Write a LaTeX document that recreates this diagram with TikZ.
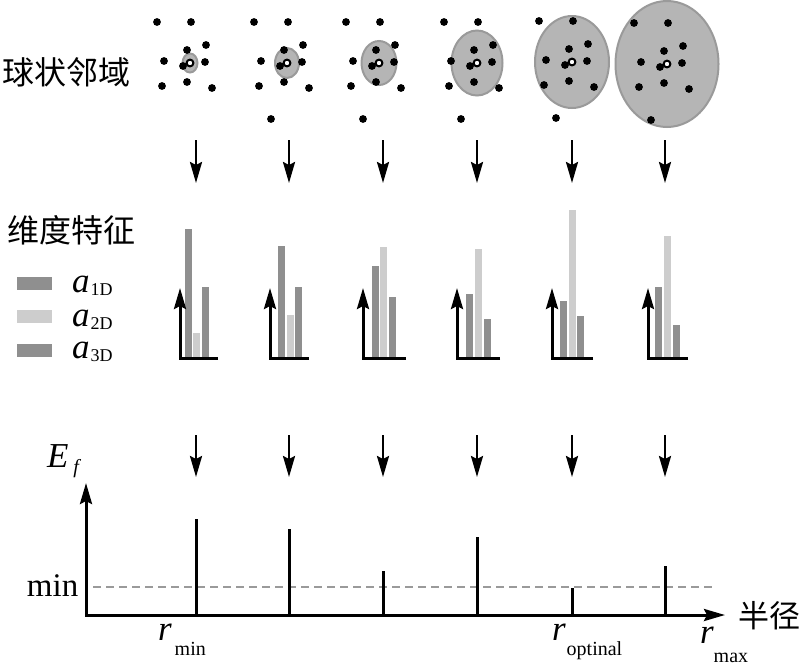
\documentclass[tikz,border=0pt]{standalone}
\usepackage{fontspec}
\setmainfont{Liberation Serif}
\newfontfamily\cjk{Noto Sans CJK SC}
\usetikzlibrary{arrows.meta}
\definecolor{ellfill}{HTML}{B5B5B5}
\definecolor{elldraw}{HTML}{9A9A9A}
\definecolor{bardark}{HTML}{8F8F8F}
\definecolor{barlight}{HTML}{CDCDCD}
\definecolor{dashgray}{HTML}{9A9A9A}
\newcommand\myfs[1]{\fontsize{#1}{#1}\selectfont}
\begin{document}
\begin{tikzpicture}[x=1pt,y=-1pt,
  tip/.style={-{Stealth[length=21pt,width=12pt,inset=3pt]}},
  downarrow/.style={tip,line width=2.5pt},
  axisline/.style={line width=3pt,line join=miter},
  stem/.style={line width=3pt},
  txt/.style={inner sep=0pt,outer sep=0pt},
  neigh/.style={fill=ellfill,draw=elldraw,line width=2pt},
  dot/.style={fill=black},
  centre/.style={fill=white,draw=black,line width=2pt},
  legbox/.style={inner sep=0pt,minimum width=35pt,minimum height=13pt}]
\useasboundingbox (0,0) rectangle (800,665);

% ---------- top row: spherical neighbourhoods ----------
\node[txt] (lab1) at (66,72) {\cjk\myfs{32}球状邻域};
\foreach \cx/\cy/\rx/\ry/\extra [count=\i] in
  {190/63/7.5/9.5/0, 287/63/12/15/1, 379/63/17.5/22/1,
   477/63/25.5/32.5/1, 572/62/37/46/1, 667/64/51.5/63/1}{
  \path[neigh] (\cx,\cy) ellipse [x radius=\rx pt, y radius=\ry pt];
  \foreach \dx/\dy in {-33/-41,1/-41,16/-18,-3/-13,-26/-2,15/-1,-7/3,-3/19,-28/23,22/25}
    \fill[dot] (\cx+\dx,\cy+\dy) circle [radius=3.9pt];
  \ifnum\extra=1 \fill[dot] (\cx-16,\cy+56) circle [radius=3.9pt]; \fi
  \draw[centre] (\cx,\cy) circle [radius=3.4pt];
}

% ---------- arrows ----------
\foreach \x [count=\i] in {196,289,383,477,572,665}{
  \coordinate (a\i s) at (\x,140); \coordinate (a\i e) at (\x,183);
  \coordinate (b\i s) at (\x,435); \coordinate (b\i e) at (\x,477);
  \draw[downarrow] (a\i s) -- (a\i e);
  \draw[downarrow] (b\i s) -- (b\i e);
}

% ---------- dimension features ----------
\node[txt] (lab2) at (72,230) {\cjk\myfs{32}维度特征};
\node[legbox,fill=bardark]  (lg1) at (34.5,283.5) {};
\node[legbox,fill=barlight] (lg2) at (34.5,316.5) {};
\node[legbox,fill=bardark]  (lg3) at (34.5,350) {};
\node[txt,anchor=base west] (lt1) at (72,292) {\myfs{35}\textit{a}\kern1pt\raisebox{-3pt}{\myfs{18}1D}};
\node[txt,anchor=base west] (lt2) at (72,326) {\myfs{35}\textit{a}\kern1pt\raisebox{-3pt}{\myfs{18}2D}};
\node[txt,anchor=base west] (lt3) at (72,358) {\myfs{35}\textit{a}\kern1pt\raisebox{-3pt}{\myfs{18}3D}};

\foreach \ax/\hx/\la/\ta/\lb/\tb/\lc/\tc [count=\i] in
  {180/218/185/229/193/333/202/287,
   270/309/278/246/287/315/295/287,
   363/406/372/266/380/247/389/297,
   457/500/466/294/475/249/484/319,
   552/593/560/301/569/210/577/316,
   648/688/655/287/664/236/673/325}{
  \fill[bardark]  (\la,\ta) rectangle (\la+7,358);
  \fill[barlight] (\lb,\tb) rectangle (\lb+7,358);
  \fill[bardark]  (\lc,\tc) rectangle (\lc+7,358);
  \coordinate (c\i o) at (\ax,358);
  \coordinate (c\i y) at (\ax,288);
  \coordinate (c\i x) at (\hx,358);
  \draw[axisline,tip] (c\i x) -- (c\i o) -- (c\i y);
}

% ---------- E_f plot ----------
\coordinate (O) at (86,615);
\coordinate (Ytop) at (86,483);
\coordinate (Xend) at (725,615);
\draw[dashgray,line width=2pt,dash pattern=on 8pt off 5pt] (93,587) -- (713,587);
\foreach \x/\t [count=\i] in {196/519,289/529,383/571,477/537,572/588,665/566}{
  \coordinate (s\i b) at (\x,615); \coordinate (s\i t) at (\x,\t);
  \draw[stem] (s\i b) -- (s\i t);
}
\draw[axisline,{Stealth[length=21pt,width=12pt,inset=3pt]}-{Stealth[length=21pt,width=12pt,inset=3pt]}] (Ytop) -- (O) -- (Xend);

\node[txt,anchor=base west] (ef) at (47,467) {\myfs{35}\textit{E}\kern5pt\raisebox{-6pt}{\myfs{20}\textit{f}}};
\node[txt,anchor=base west] (mn) at (27,596) {\myfs{33}min};
\node[txt] (rad) at (769,616) {\cjk\myfs{31}半径};
\node[txt,anchor=base west] (r1) at (158,640) {\myfs{35}\textit{r}\kern3pt\raisebox{-15pt}{\myfs{20}min}};
\node[txt,anchor=base west] (r2) at (552,640) {\myfs{35}\textit{r}\kern1pt\raisebox{-15pt}{\myfs{20}optinal}};
\node[txt,anchor=base west] (r3) at (700,643) {\myfs{35}\textit{r}\raisebox{-19pt}{\myfs{20}max}};
\end{tikzpicture}
\end{document}
